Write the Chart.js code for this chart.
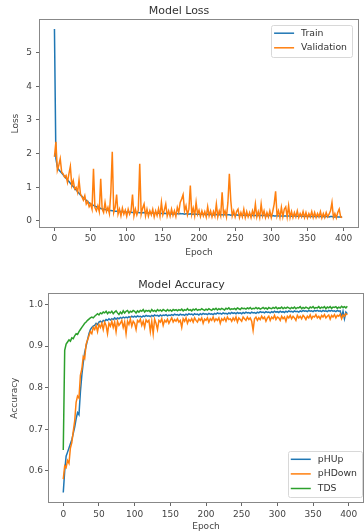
<!DOCTYPE html>
<html>
<head>
<meta charset="utf-8">
<script src="https://cdn.jsdelivr.net/npm/chart.js@4"></script>
<style>
  html, body { margin: 0; padding: 0; background: #fff; }
  .box { position: absolute; left: 0; width: 364px; }
  #lossBox { top: 0; height: 258px; }
  #accBox { top: 266px; height: 266px; }
</style>
</head>
<body>
<div class="box" id="lossBox"><canvas id="lossChart"></canvas></div>
<div class="box" id="accBox"><canvas id="accChart"></canvas></div>
<script>
// values read every 2nd epoch
const epochs = Array.from({ length: 200 }, (_, i) => i * 2);
const epochTicks = [0, 50, 100, 150, 200, 250, 300, 350, 400];
const lossTicks = [0, 1, 2, 3, 4, 5];
const accTicks = [0.6, 0.7, 0.8, 0.9, 1.0];

const trainLoss = [
  5.7, 1.85, 1.6, 1.52, 1.47, 1.42, 1.37, 1.32, 1.27, 1.22, 1.17, 1.12, 1.07, 1.02, 0.97, 0.92, 0.87, 0.82, 0.77, 0.73,
  0.69, 0.65, 0.61, 0.57, 0.54, 0.51, 0.48, 0.46, 0.44, 0.42, 0.40, 0.39, 0.37, 0.36, 0.35, 0.34, 0.33, 0.32, 0.31, 0.31,
  0.30, 0.30, 0.29, 0.29, 0.28, 0.28, 0.28, 0.27, 0.27, 0.27, 0.26, 0.26, 0.26, 0.26, 0.25, 0.25, 0.25, 0.25, 0.25, 0.24,
  0.24, 0.24, 0.25, 0.24, 0.23, 0.24, 0.23, 0.23, 0.24, 0.23, 0.23, 0.22, 0.23, 0.23, 0.22, 0.22, 0.23, 0.22, 0.22, 0.22,
  0.22, 0.21, 0.22, 0.21, 0.22, 0.21, 0.21, 0.22, 0.21, 0.21, 0.20, 0.21, 0.21, 0.20, 0.21, 0.20, 0.20, 0.21, 0.20, 0.20,
  0.20, 0.19, 0.20, 0.20, 0.19, 0.19, 0.20, 0.19, 0.19, 0.19, 0.18, 0.19, 0.19, 0.18, 0.19, 0.18, 0.18, 0.19, 0.18, 0.18,
  0.18, 0.18, 0.17, 0.18, 0.18, 0.17, 0.18, 0.17, 0.17, 0.18, 0.17, 0.17, 0.17, 0.16, 0.17, 0.17, 0.16, 0.17, 0.16, 0.16,
  0.17, 0.16, 0.16, 0.16, 0.17, 0.16, 0.16, 0.15, 0.16, 0.16, 0.15, 0.16, 0.15, 0.15, 0.16, 0.15, 0.15, 0.15, 0.14, 0.15,
  0.15, 0.14, 0.15, 0.15, 0.14, 0.14, 0.15, 0.14, 0.14, 0.14, 0.15, 0.14, 0.14, 0.13, 0.14, 0.14, 0.13, 0.14, 0.13, 0.13,
  0.14, 0.13, 0.13, 0.13, 0.14, 0.13, 0.13, 0.12, 0.13, 0.13, 0.12, 0.13, 0.13, 0.12, 0.12, 0.13, 0.12, 0.12, 0.12, 0.12
];
const valLoss = [
  1.9, 2.35, 1.5, 1.65, 1.85, 1.45, 1.4, 1.3, 1.35, 1.15, 1.4, 1.62, 1.05, 1.2, 0.95, 1.0, 0.85, 1.22, 0.8, 0.72,
  0.62, 0.75, 0.5, 0.58, 0.42, 0.5, 0.35, 1.55, 0.4, 0.3, 0.45, 0.28, 1.25, 0.35, 0.25, 0.55, 0.28, 0.4, 0.22, 0.85,
  2.05, 0.25, 0.4, 0.78, 0.2, 0.35, 0.15, 0.38, 0.2, 0.32, 0.14, 0.35, 0.2, 0.3, 0.78, 0.15, 0.35, 0.18, 0.32, 1.7,
  0.2, 0.38, 0.5, 0.15, 0.35, 0.14, 0.3, 0.18, 0.35, 0.12, 0.3, 0.16, 0.36, 0.14, 0.55, 0.18, 0.32, 0.5, 0.15, 0.3,
  0.14, 0.35, 0.16, 0.3, 0.13, 0.4, 0.25, 0.55, 0.65, 0.78, 0.3, 0.45, 0.18, 0.35, 1.05, 0.2, 0.38, 0.15, 0.55, 0.2,
  0.32, 0.13, 0.3, 0.15, 0.28, 0.12, 0.42, 0.15, 0.3, 0.12, 0.28, 0.14, 0.5, 0.12, 0.3, 0.15, 0.85, 0.18, 0.3, 0.12,
  0.55, 1.4, 0.6, 0.15, 0.3, 0.12, 0.28, 0.35, 0.1, 0.25, 0.12, 0.35, 0.1, 0.28, 0.12, 0.25, 0.1, 0.3, 0.15, 0.5,
  0.12, 0.28, 0.1, 0.5, 0.15, 0.3, 0.1, 0.25, 0.12, 0.3, 0.1, 0.28, 0.5, 0.88, 0.15, 0.3, 0.1, 0.4, 0.12, 0.35,
  0.42, 0.12, 0.45, 0.1, 0.28, 0.1, 0.25, 0.12, 0.3, 0.1, 0.22, 0.12, 0.28, 0.1, 0.25, 0.09, 0.22, 0.12, 0.28, 0.1,
  0.25, 0.1, 0.22, 0.12, 0.28, 0.09, 0.22, 0.1, 0.25, 0.12, 0.2, 0.3, 0.55, 0.1, 0.22, 0.09, 0.25, 0.35, 0.12, 0.1
];

const accPHUp = [
  0.548, 0.6, 0.635, 0.645, 0.655, 0.665, 0.675, 0.69, 0.705, 0.725, 0.74, 0.735, 0.79, 0.83, 0.86, 0.885, 0.9, 0.915, 0.93, 0.94,
  0.945, 0.948, 0.95, 0.955, 0.952, 0.958, 0.96, 0.957, 0.962, 0.96, 0.964, 0.962, 0.966, 0.963, 0.966, 0.964, 0.968, 0.965, 0.968, 0.966,
  0.969, 0.967, 0.97, 0.968, 0.97, 0.968, 0.971, 0.969, 0.972, 0.97, 0.972, 0.97, 0.973, 0.971, 0.972, 0.97, 0.973, 0.971, 0.974, 0.972,
  0.973, 0.971, 0.974, 0.972, 0.975, 0.973, 0.974, 0.972, 0.975, 0.973, 0.975, 0.974, 0.976, 0.973, 0.975, 0.974, 0.976, 0.974, 0.977, 0.975,
  0.976, 0.974, 0.977, 0.975, 0.976, 0.974, 0.977, 0.975, 0.978, 0.976, 0.977, 0.975, 0.978, 0.976, 0.977, 0.975, 0.978, 0.976, 0.979, 0.977,
  0.978, 0.976, 0.979, 0.977, 0.978, 0.976, 0.979, 0.977, 0.98, 0.978, 0.979, 0.977, 0.98, 0.978, 0.979, 0.977, 0.98, 0.978, 0.981, 0.979,
  0.98, 0.978, 0.981, 0.979, 0.98, 0.978, 0.981, 0.979, 0.982, 0.98, 0.981, 0.979, 0.982, 0.98, 0.981, 0.979, 0.982, 0.98, 0.983, 0.981,
  0.982, 0.98, 0.983, 0.981, 0.982, 0.98, 0.983, 0.981, 0.984, 0.982, 0.983, 0.981, 0.984, 0.982, 0.983, 0.981, 0.984, 0.982, 0.985, 0.983,
  0.984, 0.982, 0.985, 0.983, 0.984, 0.982, 0.985, 0.983, 0.986, 0.984, 0.985, 0.983, 0.986, 0.984, 0.985, 0.983, 0.986, 0.984, 0.986, 0.984,
  0.985, 0.983, 0.986, 0.984, 0.985, 0.983, 0.986, 0.984, 0.986, 0.984, 0.985, 0.983, 0.986, 0.984, 0.985, 0.97, 0.984, 0.966, 0.982, 0.978
];
const accPHDown = [
  0.58, 0.612, 0.608, 0.625, 0.618, 0.655, 0.668, 0.695, 0.72, 0.765, 0.78, 0.775, 0.83, 0.845, 0.875, 0.87, 0.905, 0.915, 0.925, 0.935,
  0.93, 0.945, 0.94, 0.95, 0.935, 0.952, 0.945, 0.955, 0.94, 0.958, 0.95, 0.93, 0.955, 0.948, 0.96, 0.945, 0.958, 0.935, 0.96, 0.95,
  0.955, 0.962, 0.945, 0.958, 0.93, 0.96, 0.952, 0.965, 0.948, 0.96, 0.955, 0.94, 0.962, 0.958, 0.965, 0.95, 0.96, 0.945, 0.963, 0.958,
  0.962, 0.935, 0.96, 0.93, 0.965, 0.955, 0.94, 0.962, 0.958, 0.966, 0.95, 0.962, 0.958, 0.965, 0.955, 0.962, 0.968, 0.958, 0.964, 0.96,
  0.966, 0.958, 0.962, 0.945, 0.966, 0.96, 0.968, 0.955, 0.964, 0.96, 0.966, 0.958, 0.968, 0.962, 0.958, 0.966, 0.962, 0.968, 0.955, 0.965,
  0.962, 0.968, 0.958, 0.966, 0.962, 0.97, 0.96, 0.966, 0.962, 0.968, 0.955, 0.966, 0.962, 0.968, 0.96, 0.97, 0.964, 0.966, 0.96, 0.968,
  0.962, 0.97, 0.958, 0.968, 0.964, 0.96, 0.97, 0.966, 0.962, 0.97, 0.964, 0.968, 0.96, 0.938, 0.966, 0.97, 0.962, 0.968, 0.964, 0.972,
  0.966, 0.97, 0.96, 0.968, 0.972, 0.962, 0.97, 0.966, 0.974, 0.964, 0.97, 0.968, 0.962, 0.972, 0.966, 0.97, 0.96, 0.972, 0.968, 0.974,
  0.966, 0.972, 0.968, 0.962, 0.974, 0.968, 0.972, 0.966, 0.974, 0.97, 0.964, 0.972, 0.968, 0.975, 0.966, 0.972, 0.97, 0.976, 0.968, 0.972,
  0.966, 0.974, 0.97, 0.976, 0.968, 0.972, 0.975, 0.965, 0.974, 0.97, 0.976, 0.968, 0.974, 0.972, 0.977, 0.966, 0.975, 0.972, 0.978, 0.975
];
const accTDS = [
  0.65, 0.89, 0.905, 0.91, 0.915, 0.912, 0.92, 0.918, 0.925, 0.93, 0.928, 0.935, 0.94, 0.945, 0.95, 0.955, 0.958, 0.962, 0.965, 0.968,
  0.97, 0.968, 0.972, 0.975, 0.978, 0.975, 0.98, 0.978, 0.982, 0.98, 0.984, 0.978, 0.982, 0.98, 0.984, 0.978, 0.982, 0.985, 0.98, 0.976,
  0.982, 0.978, 0.985, 0.98, 0.984, 0.986, 0.98, 0.984, 0.982, 0.986, 0.984, 0.98, 0.985, 0.982, 0.986, 0.984, 0.988, 0.982, 0.986, 0.984,
  0.986, 0.982, 0.988, 0.984, 0.986, 0.983, 0.988, 0.985, 0.987, 0.984, 0.988, 0.986, 0.984, 0.988, 0.985, 0.987, 0.984, 0.988, 0.986, 0.988,
  0.985, 0.988, 0.986, 0.989, 0.985, 0.988, 0.986, 0.99, 0.986, 0.988, 0.985, 0.989, 0.987, 0.99, 0.986, 0.988, 0.987, 0.99, 0.988, 0.986,
  0.989, 0.987, 0.99, 0.988, 0.986, 0.99, 0.988, 0.991, 0.987, 0.99, 0.988, 0.991, 0.989, 0.987, 0.991, 0.989, 0.992, 0.988, 0.99, 0.989,
  0.991, 0.988, 0.992, 0.99, 0.988, 0.992, 0.99, 0.991, 0.989, 0.992, 0.99, 0.993, 0.989, 0.991, 0.99, 0.993, 0.99, 0.992, 0.989, 0.991,
  0.993, 0.99, 0.992, 0.989, 0.993, 0.991, 0.99, 0.993, 0.991, 0.994, 0.99, 0.992, 0.991, 0.994, 0.99, 0.993, 0.991, 0.994, 0.992, 0.99,
  0.993, 0.991, 0.994, 0.99, 0.993, 0.992, 0.995, 0.99, 0.993, 0.991, 0.994, 0.992, 0.99, 0.994, 0.992, 0.995, 0.991, 0.993, 0.992, 0.995,
  0.991, 0.994, 0.992, 0.995, 0.99, 0.994, 0.992, 0.995, 0.991, 0.994, 0.993, 0.995, 0.991, 0.994, 0.992, 0.996, 0.993, 0.995, 0.992, 0.996
];

const BLUE = '#1f77b4', ORANGE = '#ff7f0e', GREEN = '#2ca02c';

Chart.defaults.font.family = '"DejaVu Sans", sans-serif';
Chart.defaults.color = '#444';
Chart.defaults.animation = false;

function points(values) {
  return values.map((v, i) => ({ x: epochs[i], y: v }));
}

function line(label, values, color, order) {
  return {
    label: label,
    data: points(values),
    borderColor: color,
    backgroundColor: color,
    borderWidth: 1.5,
    pointRadius: 0,
    tension: 0,
    order: order
  };
}

// box around the plot like matplotlib spines
const frame = {
  id: 'frame',
  afterDatasetsDraw(chart) {
    const a = chart.chartArea, ctx = chart.ctx;
    ctx.save();
    ctx.strokeStyle = '#888';
    ctx.lineWidth = 1;
    ctx.strokeRect(Math.round(a.left) - 0.5, Math.round(a.top) - 0.5,
      Math.round(a.right - a.left) + 1, Math.round(a.bottom - a.top) + 1);
    ctx.restore();
  }
};

// legend drawn inside the plot
const boxLegend = {
  id: 'boxLegend',
  afterDraw(chart, args, opts) {
    const { ctx, chartArea: a } = chart;
    const sets = chart.data.datasets;
    ctx.save();
    ctx.font = '9.3px "DejaVu Sans"';
    const textW = Math.max(...sets.map(d => ctx.measureText(d.label).width));
    const w = 3 + 20 + 7 + textW + 5;
    const h = 8 + (sets.length - 1) * 14.6 + 9;
    const x = a.right - opts.right - w;
    const y = opts.top !== undefined ? a.top + opts.top : a.bottom - opts.bottom - h;
    ctx.fillStyle = 'rgba(255,255,255,0.8)';
    ctx.strokeStyle = '#d8d8d8';
    ctx.lineWidth = 1;
    ctx.beginPath();
    ctx.roundRect(Math.round(x) + 0.5, Math.round(y) + 0.5, Math.round(w), Math.round(h), 2);
    ctx.fill();
    ctx.stroke();
    sets.forEach((d, i) => {
      const cy = y + 8 + i * 14.6;
      ctx.strokeStyle = d.borderColor;
      ctx.lineWidth = 1.5;
      ctx.beginPath();
      ctx.moveTo(x + 3, cy);
      ctx.lineTo(x + 23, cy);
      ctx.stroke();
      ctx.fillStyle = '#333';
      ctx.textBaseline = 'middle';
      ctx.fillText(d.label, x + 30, cy);
    });
    ctx.restore();
  }
};

function scale(min, max, ticks, fmt, tickPad, title, titlePad, size, horizontal) {
  return {
    type: 'linear',
    min: min,
    max: max,
    afterBuildTicks: s => { s.ticks = ticks.map(v => ({ value: v })); },
    afterFit: s => { if (horizontal) s.height = size; else s.width = size; },
    ticks: { callback: fmt, font: { size: 9 }, color: '#444', padding: tickPad, autoSkip: false, maxRotation: 0 },
    grid: { display: true, drawOnChartArea: false, drawTicks: true, tickLength: 4, color: '#666' },
    border: { display: false },
    title: { display: true, text: title, font: { size: 9 }, color: '#444', padding: titlePad }
  };
}

new Chart(document.getElementById('lossChart'), {
  type: 'line',
  data: {
    datasets: [
      line('Train', trainLoss, BLUE, 2),
      line('Validation', valLoss, ORANGE, 1)
    ]
  },
  options: {
    responsive: true,
    maintainAspectRatio: false,
    layout: { padding: { left: 0, right: 6, top: 0, bottom: 0 } },
    plugins: {
      legend: { display: false },
      tooltip: { enabled: false },
      title: { display: true, text: 'Model Loss', font: { size: 11, weight: 'normal' }, color: '#333', padding: { top: 5, bottom: 2 } },
      boxLegend: { right: 6, top: 5 }
    },
    scales: {
      x: scale(-20, 420, epochTicks, v => String(v), 2, 'Epoch', { top: 0, bottom: 0 }, 31, true),
      y: scale(-0.18, 5.96, lossTicks, v => String(v), 4, 'Loss', { top: 10.5, bottom: 0 }, 40, false)
    }
  },
  plugins: [frame, boxLegend]
});

new Chart(document.getElementById('accChart'), {
  type: 'line',
  data: {
    datasets: [
      line('pHUp', accPHUp, BLUE, 3),
      line('pHDown', accPHDown, ORANGE, 2),
      line('TDS', accTDS, GREEN, 1)
    ]
  },
  options: {
    responsive: true,
    maintainAspectRatio: false,
    layout: { padding: { left: 0, right: 1, top: 0, bottom: 0 } },
    plugins: {
      legend: { display: false },
      tooltip: { enabled: false },
      title: { display: true, text: 'Model Accuracy', font: { size: 11, weight: 'normal' }, color: '#333', padding: { top: 13, bottom: 2 } },
      boxLegend: { right: 1, bottom: 4.5 }
    },
    scales: {
      x: scale(-20, 420, epochTicks, v => String(v), 3.5, 'Epoch', { top: 0, bottom: 0 }, 30, true),
      y: scale(0.525, 1.025, accTicks, v => v.toFixed(1), 2, 'Accuracy', { top: 9.5, bottom: 0 }, 49, false)
    }
  },
  plugins: [frame, boxLegend]
});
</script>
</body>
</html>
